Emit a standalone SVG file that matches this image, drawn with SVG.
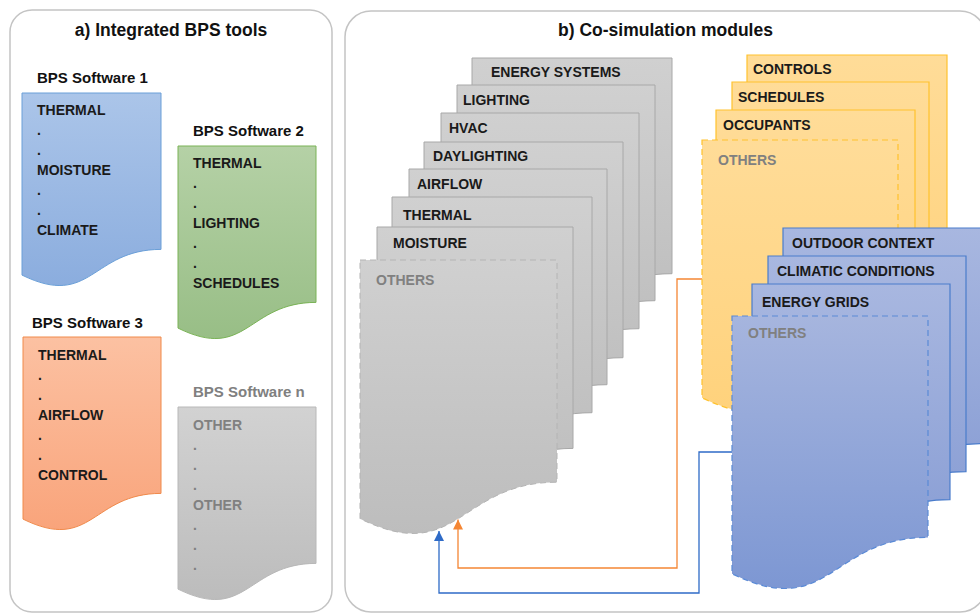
<svg xmlns="http://www.w3.org/2000/svg" width="980" height="614" viewBox="0 0 980 614">
<defs>
<linearGradient id="gBlue" x1="0" y1="0" x2="0" y2="1"><stop offset="0" stop-color="#abc5e9"/><stop offset="1" stop-color="#8badde"/></linearGradient>
<linearGradient id="gGreen" x1="0" y1="0" x2="0" y2="1"><stop offset="0" stop-color="#b5d1a6"/><stop offset="1" stop-color="#98be86"/></linearGradient>
<linearGradient id="gOrange" x1="0" y1="0" x2="0" y2="1"><stop offset="0" stop-color="#fcc1a2"/><stop offset="1" stop-color="#f9a47b"/></linearGradient>
<linearGradient id="gGray" x1="0" y1="0" x2="0" y2="1"><stop offset="0" stop-color="#d2d2d2"/><stop offset="1" stop-color="#bcbcbc"/></linearGradient>
<linearGradient id="gStack" x1="0" y1="0" x2="0" y2="1"><stop offset="0" stop-color="#d0d0d0"/><stop offset="1" stop-color="#bdbdbd"/></linearGradient>
<linearGradient id="gYel" x1="0" y1="0" x2="0" y2="1"><stop offset="0" stop-color="#ffdc98"/><stop offset="1" stop-color="#ffd27c"/></linearGradient>
<linearGradient id="gBl2" x1="0" y1="0" x2="0" y2="1"><stop offset="0" stop-color="#a8b7e0"/><stop offset="1" stop-color="#889dd4"/></linearGradient>
<linearGradient id="gBl3" x1="0" y1="0" x2="0" y2="1"><stop offset="0" stop-color="#a6b5de"/><stop offset="1" stop-color="#7d97d3"/></linearGradient>
<marker id="arrO" viewBox="0 0 10 10" refX="10" refY="5" markerUnits="userSpaceOnUse" markerWidth="11" markerHeight="10" orient="auto"><path d="M0,0 L10,5 L0,10 z" fill="#f58634"/></marker>
<marker id="arrB" viewBox="0 0 10 10" refX="10" refY="5" markerUnits="userSpaceOnUse" markerWidth="11" markerHeight="10" orient="auto"><path d="M0,0 L10,5 L0,10 z" fill="#2f6bc7"/></marker>
</defs>
<style>
.panel{fill:#fff;stroke:#c4c4c4;stroke-width:1.5}
.title{font-family:"Liberation Sans",Arial,sans-serif;font-weight:bold;font-size:17.5px;fill:#111;text-anchor:middle}
.lbl{font-family:"Liberation Sans",Arial,sans-serif;font-weight:bold;font-size:15px;fill:#111}
.t{font-family:"Liberation Sans",Arial,sans-serif;font-weight:bold;font-size:14px;fill:#1a1a1a}
.g{fill:#808080}
.dBlue{fill:url(#gBlue);stroke:#6a9fd8;stroke-width:1}
.dGreen{fill:url(#gGreen);stroke:#7ab356;stroke-width:1}
.dOrange{fill:url(#gOrange);stroke:#f08a4b;stroke-width:1}
.dGray{fill:url(#gGray);stroke:#b8b8b8;stroke-width:1}
.sG{fill:url(#gStack);stroke:#a8a8a8;stroke-width:1}
.sGd{fill:url(#gStack);stroke:#b4b4b4;stroke-width:1;stroke-dasharray:6 4}
.sY{fill:url(#gYel);stroke:#ffc22e;stroke-width:1.2}
.sYd{fill:url(#gYel);stroke:#ffc22e;stroke-width:1.2;stroke-dasharray:6 4}
.sB{fill:url(#gBl2);stroke:#4a7ccb;stroke-width:1.2}
.sBd{fill:url(#gBl3);stroke:#5a8ad6;stroke-width:1.2;stroke-dasharray:6 4}
.conn{fill:none;stroke-width:1.3}
</style>
<rect width="980" height="614" fill="#fff"/>
<g id="panel-a">
<rect class="panel" x="10" y="10" width="322" height="602" rx="22"/>
<text class="title" x="171" y="36">a) Integrated BPS tools</text>
</g>
<g id="panel-b">
<rect class="panel" x="345" y="11" width="641" height="601" rx="26"/>
<text class="title" x="665.5" y="36">b) Co-simulation modules</text>
</g>
<g id="bps1">
<text class="lbl" x="37" y="83">BPS Software 1</text>
<path class="dBlue" d="M22,93 H161 V249.4 C91.5,249.4 91.5,309 22,275.1 Z"/>
<text class="t" x="37" y="115">THERMAL</text><text class="t" x="37" y="135">.</text><text class="t" x="37" y="155">.</text><text class="t" x="37" y="175">MOISTURE</text><text class="t" x="37" y="195">.</text><text class="t" x="37" y="215">.</text><text class="t" x="37" y="235">CLIMATE</text>
</g>
<g id="bps2">
<text class="lbl" x="193" y="136">BPS Software 2</text>
<path class="dGreen" d="M178,146 H316 V302.4 C247,302.4 247,362 178,328.1 Z"/>
<text class="t" x="193" y="168">THERMAL</text><text class="t" x="193" y="188">.</text><text class="t" x="193" y="208">.</text><text class="t" x="193" y="228">LIGHTING</text><text class="t" x="193" y="248">.</text><text class="t" x="193" y="268">.</text><text class="t" x="193" y="288">SCHEDULES</text>
</g>
<g id="bps3">
<text class="lbl" x="32" y="328">BPS Software 3</text>
<path class="dOrange" d="M23,337 H161 V493.4 C92,493.4 92,553 23,519.1 Z"/>
<text class="t" x="38" y="360">THERMAL</text><text class="t" x="38" y="380">.</text><text class="t" x="38" y="400">.</text><text class="t" x="38" y="420">AIRFLOW</text><text class="t" x="38" y="440">.</text><text class="t" x="38" y="460">.</text><text class="t" x="38" y="480">CONTROL</text>
</g>
<g id="bpsn">
<text class="lbl g" x="193" y="397">BPS Software n</text>
<path class="dGray" d="M178,407 H316 V563.4 C247,563.4 247,623 178,589.1 Z"/>
<text class="t g" x="193" y="430">OTHER</text><text class="t g" x="193" y="450">.</text><text class="t g" x="193" y="470">.</text><text class="t g" x="193" y="490">.</text><text class="t g" x="193" y="510">OTHER</text><text class="t g" x="193" y="530">.</text><text class="t g" x="193" y="550">.</text><text class="t g" x="193" y="570">.</text>
</g>
<g id="connectors">
<path class="conn" stroke="#f58634" d="M702,279 H677 V568 H458 V519.5" marker-end="url(#arrO)"/>
<path class="conn" stroke="#2f6bc7" d="M732,452 H699 V593 H439 V531" marker-end="url(#arrB)"/>
</g>
<g id="gray-stack">
<g id="m-energy-systems"><path class="sG" d="M472,58 H672 V273.7 C572,273.7 572,355.9 472,309.2 Z"/><text class="t" x="491" y="77">ENERGY SYSTEMS</text></g>
<g id="m-lighting"><path class="sG" d="M457,85 H655 V300.7 C556,300.7 556,382.9 457,336.2 Z"/><text class="t" x="463" y="105">LIGHTING</text></g>
<g id="m-hvac"><path class="sG" d="M441,113 H639 V328.7 C540,328.7 540,410.9 441,364.2 Z"/><text class="t" x="449" y="133">HVAC</text></g>
<g id="m-daylighting"><path class="sG" d="M424,142 H623 V357.7 C523.5,357.7 523.5,439.9 424,393.2 Z"/><text class="t" x="433" y="161">DAYLIGHTING</text></g>
<g id="m-airflow"><path class="sG" d="M409,169 H607 V384.7 C508,384.7 508,466.9 409,420.2 Z"/><text class="t" x="417" y="189">AIRFLOW</text></g>
<g id="m-thermal"><path class="sG" d="M392,197 H592 V412.7 C492,412.7 492,494.9 392,448.2 Z"/><text class="t" x="403" y="220">THERMAL</text></g>
<g id="m-moisture"><path class="sG" d="M377,227 H573 V448.4 C475,448.4 475,532.7 377,484.8 Z"/><text class="t" x="393" y="248">MOISTURE</text></g>
<g id="m-others-gray"><path class="sGd" d="M360,260 H557 V482.2 C458.5,482.2 458.5,566.8 360,518.7 Z"/><text class="t g" x="376" y="285">OTHERS</text></g>
</g>
<g id="yellow-stack">
<g id="m-controls"><path class="sY" d="M747,55 H947 V270.7 C847,270.7 847,352.9 747,306.2 Z"/><text class="t" x="753" y="74">CONTROLS</text></g>
<g id="m-schedules"><path class="sY" d="M732,82 H929 V297.7 C830.5,297.7 830.5,379.9 732,333.2 Z"/><text class="t" x="738" y="102">SCHEDULES</text></g>
<g id="m-occupants"><path class="sY" d="M716,110 H915 V325.7 C815.5,325.7 815.5,407.9 716,361.2 Z"/><text class="t" x="723" y="130">OCCUPANTS</text></g>
<g id="m-others-yellow"><path class="sYd" d="M702,140 H898 V361.4 C800,361.4 800,445.7 702,397.8 Z"/><text class="t g" x="718" y="165">OTHERS</text></g>
</g>
<g id="blue-stack">
<g id="m-outdoor-context"><path class="sB" d="M783,228 H981 V443.7 C882,443.7 882,525.9 783,479.2 Z"/><text class="t" x="792" y="248">OUTDOOR CONTEXT</text></g>
<g id="m-climatic-conditions"><path class="sB" d="M768,256 H966 V471.7 C867,471.7 867,553.9 768,507.2 Z"/><text class="t" x="777" y="276">CLIMATIC CONDITIONS</text></g>
<g id="m-energy-grids"><path class="sB" d="M752,284 H950 V499.7 C851,499.7 851,581.9 752,535.2 Z"/><text class="t" x="762" y="307">ENERGY GRIDS</text></g>
<g id="m-others-blue"><path class="sBd" d="M732,316 H928 V537.4 C830,537.4 830,621.7 732,573.8 Z"/><text class="t g" x="748" y="338">OTHERS</text></g>
</g>
</svg>
